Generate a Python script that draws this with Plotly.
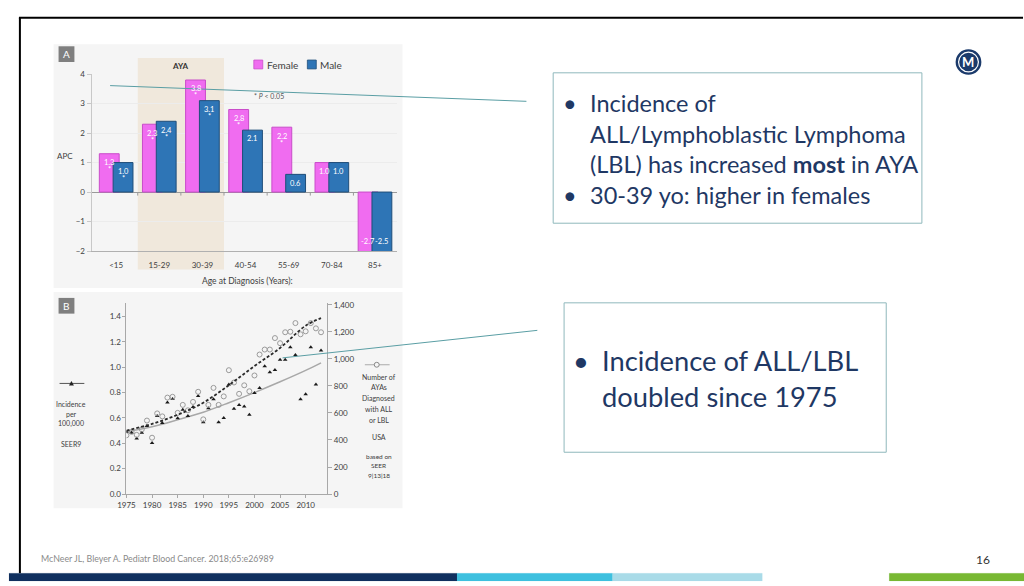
import plotly.graph_objects as go

W, H = 1024, 586

# ---------------- Panel A: annual percent change by age group ----------------
age_groups = ["<15", "15-29", "30-39", "40-54", "55-69", "70-84", "85+"]
female_apc = [1.3, 2.3, 3.8, 2.8, 2.2, 1.0, -2.7]
male_apc = [1.0, 2.4, 3.1, 2.1, 0.6, 1.0, -2.5]
female_sig = [True, True, True, True, True, False, False]
male_sig = [True, True, True, False, False, False, False]
apc_ticks = [-2, -1, 0, 1, 2, 3, 4]

# ---------------- Panel B: incidence and case counts over time ----------------
years = [1975, 1976, 1977, 1978, 1979, 1980, 1981, 1982, 1983, 1984,
         1985, 1986, 1987, 1988, 1989, 1990, 1991, 1992, 1993, 1994,
         1995, 1996, 1997, 1998, 1999, 2000, 2001, 2002, 2003, 2004,
         2005, 2006, 2007, 2008, 2009, 2010, 2011, 2012, 2013]
incidence = [0.49, 0.483, 0.437, 0.483, 0.537, 0.403, 0.615, 0.561, 0.721, 0.749,
             0.597, 0.664, 0.615, 0.687, 0.773, 0.566, 0.677, 0.747, 0.566, 0.599,
             0.863, 0.672, 0.703, 0.69, 0.625, 0.796, 0.837, 1.008, 0.961, 0.979,
             1.06, 1.06, 1.158, 1.096, 0.747, 0.786, 1.158, 0.863, 1.132]
aya_count = [435, 460, 438, 479, 544, 417, 597, 575, 714, 720,
             601, 660, 620, 682, 757, 553, 660, 786, 660, 723,
             917, 826, 742, 805, 761, 878, 1033, 1070, 1070, 1155,
             1117, 1198, 1202, 1266, 1183, 1205, 1266, 1227, 1198]
trend_years = [1975, 1980, 1985, 1990, 1995, 2000, 2005, 2010, 2013]
incidence_trend = [0.49, 0.53, 0.585, 0.645, 0.72, 0.80, 0.885, 0.975, 1.035]
count_trend = [470, 519, 587, 676, 806, 948, 1082, 1247, 1303]
year_ticks = [1975, 1980, 1985, 1990, 1995, 2000, 2005, 2010]
inc_ticks = [0.0, 0.2, 0.4, 0.6, 0.8, 1.0, 1.2, 1.4]
count_ticks = [0, 200, 400, 600, 800, 1000, 1200, 1400]

PINK = "#f06cf0"
PINK_EDGE = "#c94cc9"
BLUE = "#2e75b6"
BLUE_EDGE = "#1f4e79"
NAVY = "#1f3864"
TEAL = "#5a9ea4"
BOX_EDGE = "#8fb8bc"
AX_TXT = "#404040"
FONT = "Lato"


def fx(x):
    return x / W


def fy(y):
    return 1 - y / H


fig = go.Figure()

# bars: female drawn first, male overlaps it on the right
fig.add_trace(go.Bar(x=age_groups, y=female_apc, width=0.46, offset=-0.39,
                     marker=dict(color=PINK, line=dict(color=PINK_EDGE, width=1)),
                     xaxis="x", yaxis="y", showlegend=False, name="Female"))
fig.add_trace(go.Bar(x=age_groups, y=male_apc, width=0.46, offset=-0.07,
                     marker=dict(color=BLUE, line=dict(color=BLUE_EDGE, width=1)),
                     xaxis="x", yaxis="y", showlegend=False, name="Male"))

# panel B: counts (right axis) as open circles, incidence (left axis) as dark markers
fig.add_trace(go.Scatter(x=years, y=aya_count, mode="markers",
                         marker=dict(symbol="circle-open", size=5, color="#9a9a9a",
                                     line=dict(width=1)),
                         xaxis="x2", yaxis="y3", showlegend=False))
fig.add_trace(go.Scatter(x=trend_years, y=count_trend, mode="lines",
                         line=dict(color="#2b2b2b", width=1.8, dash="3px,2px", shape="spline"),
                         xaxis="x2", yaxis="y3", showlegend=False))
fig.add_trace(go.Scatter(x=trend_years, y=incidence_trend, mode="lines",
                         line=dict(color="#a8a8a8", width=1.5, shape="spline"),
                         xaxis="x2", yaxis="y2", showlegend=False))
fig.add_trace(go.Scatter(x=years, y=incidence, mode="markers",
                         marker=dict(symbol="triangle-up", size=4, color="#1a1a1a"),
                         xaxis="x2", yaxis="y2", showlegend=False))

shapes = []
# panel backgrounds
shapes.append(dict(type="rect", xref="paper", yref="paper", x0=fx(45), x1=fx(397),
                   y0=fy(288), y1=fy(40), fillcolor="#f5f5f5", line_width=0, layer="below"))
shapes.append(dict(type="rect", xref="paper", yref="paper", x0=fx(45), x1=fx(397),
                   y0=fy(512), y1=fy(292), fillcolor="#f5f5f5", line_width=0, layer="below"))
# AYA band behind the 15-29 and 30-39 groups
shapes.append(dict(type="rect", xref="x", yref="paper", x0=0.5, x1=2.5,
                   y0=fy(269), y1=fy(54), fillcolor="#f0e8dc", line_width=0, layer="below"))
# small tick marks on the zero line between age groups
for b in range(len(age_groups) - 1):
    shapes.append(dict(type="line", xref="x", yref="y", x0=b + 0.5, x1=b + 0.5,
                       y0=0, y1=-0.12, line=dict(color="#9a9a9a", width=1)))
# panel letters
for letter_y in (42, 298):
    shapes.append(dict(type="rect", xref="paper", yref="paper", x0=fx(50), x1=fx(66),
                       y0=fy(letter_y + 16), y1=fy(letter_y), fillcolor="#7f7f7f", line_width=0))
# legend swatches for panel A
shapes.append(dict(type="rect", xref="paper", yref="paper", x0=fx(247), x1=fx(256),
                   y0=fy(65), y1=fy(56), fillcolor=PINK, line=dict(color=PINK_EDGE, width=0.8)))
shapes.append(dict(type="rect", xref="paper", yref="paper", x0=fx(301), x1=fx(310),
                   y0=fy(65), y1=fy(56), fillcolor=BLUE, line=dict(color=BLUE_EDGE, width=0.8)))
# panel B legend glyphs: line with a filled triangle, line with an open circle
shapes.append(dict(type="line", xref="paper", yref="paper", x0=fx(51), x1=fx(76),
                   y0=fy(385), y1=fy(385), line=dict(color="#555555", width=1)))
tri = [(60.5, 387), (65.5, 387), (63, 382.5)]
shapes.append(dict(type="path", xref="paper", yref="paper",
                   path="M " + " L ".join(f"{fx(px):.5f},{fy(py):.5f}" for px, py in tri) + " Z",
                   fillcolor="#222222", line_width=0))
shapes.append(dict(type="line", xref="paper", yref="paper", x0=fx(359), x1=fx(384),
                   y0=fy(366), y1=fy(366), line=dict(color="#aaaaaa", width=1)))
shapes.append(dict(type="circle", xref="paper", yref="paper", x0=fx(368.5), x1=fx(373.5),
                   y0=fy(368.5), y1=fy(363.5), fillcolor="#f5f5f5",
                   line=dict(color="#888888", width=1)))
# connector lines to the callout boxes
shapes.append(dict(type="line", xref="paper", yref="paper", x0=fx(102), x1=fx(522),
                   y0=fy(82), y1=fy(98), line=dict(color=TEAL, width=1)))
shapes.append(dict(type="line", xref="paper", yref="paper", x0=fx(276), x1=fx(533),
                   y0=fy(359), y1=fy(331), line=dict(color=TEAL, width=1)))
# callout boxes
shapes.append(dict(type="rect", xref="paper", yref="paper", x0=fx(549), x1=fx(921),
                   y0=fy(222), y1=fy(69), fillcolor="white", line=dict(color=BOX_EDGE, width=1)))
shapes.append(dict(type="rect", xref="paper", yref="paper", x0=fx(560), x1=fx(885),
                   y0=fy(455), y1=fy(303), fillcolor="white", line=dict(color=BOX_EDGE, width=1)))
# slide frame
shapes.append(dict(type="line", xref="paper", yref="paper", x0=fx(10), x1=fx(1023),
                   y0=fy(13), y1=fy(13), line=dict(color="black", width=2)))
shapes.append(dict(type="line", xref="paper", yref="paper", x0=fx(11), x1=fx(11),
                   y0=fy(578), y1=fy(13), line=dict(color="black", width=2)))
# footer colour band
for x0, x1, col in [(0, 452, "#10305f"), (452, 609, "#3ec0df"),
                    (609, 760, "#a9dbe8"), (888, 1024, "#78b833")]:
    shapes.append(dict(type="rect", xref="paper", yref="paper", x0=fx(x0), x1=fx(x1),
                       y0=0, y1=fy(578), fillcolor=col, line=dict(color=col, width=0.1)))
# logo
shapes.append(dict(type="circle", xref="paper", yref="paper", x0=fx(955), x1=fx(981),
                   y0=fy(71), y1=fy(45), fillcolor="#1b3a6b", line_width=0))
shapes.append(dict(type="circle", xref="paper", yref="paper", x0=fx(958), x1=fx(978),
                   y0=fy(68), y1=fy(48), fillcolor="rgba(0,0,0,0)",
                   line=dict(color="white", width=1.2)))

ann = []


def text(x, y, s, size, color=AX_TXT, anchor="center"):
    ann.append(dict(x=fx(x), y=fy(y), xref="paper", yref="paper", text=s, showarrow=False,
                    xanchor=anchor, yanchor="middle",
                    font=dict(size=size, color=color, family=FONT)))


def label_y(v):
    if v < 0:
        return max(v, -2) + 0.33
    return v - 0.3 if v > 0.8 else v / 2


# value labels inside the bars, with an asterisk under significant changes
for offs, vals, sigs in [(-0.16, female_apc, female_sig), (0.16, male_apc, male_sig)]:
    for i, (v, sig) in enumerate(zip(vals, sigs)):
        yl = label_y(v)
        ann.append(dict(x=i + offs, y=yl, xref="x", yref="y", text=f"{v:.1f}",
                        showarrow=False, font=dict(size=7.5, color="white", family=FONT)))
        if sig:
            ann.append(dict(x=i + offs, y=yl - 0.24, xref="x", yref="y", text="*",
                            showarrow=False, font=dict(size=7.5, color="white", family=FONT)))

text(58, 50, "A", 10, color="white")
text(58, 306, "B", 10, color="white")
text(173, 62, "<b>AYA</b>", 8, color="#333333")
text(258, 61, "Female", 10, anchor="left")
text(312, 61, "Male", 10, anchor="left")
text(262, 93, "* <i>P</i> &lt; 0.05", 7, color="#555555")
text(56, 154, "APC", 8)
text(241, 281, "Age at Diagnosis (Years):", 8.5)

# panel B side legends
text(63, 406, "Incidence", 7)
text(63, 416, "per", 7)
text(63, 426, "100,000", 7)
text(63, 447, "SEER9", 7)
for yy, s in [(378, "Number of"), (389, "AYAs"), (400, "Diagnosed"), (411, "with ALL"),
              (422, "or LBL"), (440, "USA"), (459, "based on"), (469, "SEER"), (479, "9|13|18")]:
    text(373, yy, s, 7 if yy < 450 else 6.5)

# callout text
BOX_A = 23.5
text(566, 100, "•", BOX_A, color=NAVY)
text(584, 100, "Incidence of", BOX_A, color=NAVY, anchor="left")
text(584, 131, "ALL/Lymphoblastic Lymphoma", BOX_A, color=NAVY, anchor="left")
text(584, 162, "(LBL) has increased <b>most</b> in AYA", BOX_A, color=NAVY, anchor="left")
text(566, 193, "•", BOX_A, color=NAVY)
text(584, 193, "30-39 yo: higher in females", BOX_A, color=NAVY, anchor="left")
BOX_B = 27.3
text(577, 362, "•", BOX_B, color=NAVY)
text(596, 362, "Incidence of ALL/LBL", BOX_B, color=NAVY, anchor="left")
text(596, 398, "doubled since 1975", BOX_B, color=NAVY, anchor="left")

# footer and logo
text(30, 563, "McNeer JL, Bleyer A. Pediatr Blood Cancer. 2018;65:e26989", 8.8,
     color="#8a8a8a", anchor="left")
text(983, 564, "16", 12, color="#333333")
text(968, 58, "<b>M</b>", 13, color="white")

axis_font = dict(size=8, color=AX_TXT, family=FONT)

fig.update_layout(
    width=W, height=H,
    margin=dict(l=0, r=0, t=0, b=0, pad=0),
    paper_bgcolor="white",
    plot_bgcolor="rgba(0,0,0,0)",
    barmode="overlay",
    shapes=shapes,
    annotations=ann,
    xaxis=dict(domain=[fx(83.3), fx(391)], range=[-0.57, 6.5], type="category",
               showgrid=False, showline=True, linecolor="#b0b0b0",
               ticks="outside", ticklen=6, tickcolor="rgba(0,0,0,0)", tickfont=axis_font),
    yaxis=dict(domain=[fy(250.3), fy(70.3)], range=[-2, 4], tickvals=apc_ticks,
               ticktext=[str(t).replace("-", "−") for t in apc_ticks],
               showgrid=True, gridcolor="#ececec", zeroline=True, zerolinecolor="#9a9a9a",
               zerolinewidth=1, showline=True, linecolor="#c8c8c8", ticks="outside",
               ticklen=4, tickcolor="#c8c8c8", tickfont=axis_font),
    xaxis2=dict(domain=[fx(118.5), fx(321)], range=[1975, 2014.2], tickvals=year_ticks,
                showgrid=False, showline=True, linecolor="#a8a8a8", ticks="outside",
                ticklen=3, tickcolor="#a8a8a8", tickfont=axis_font, anchor="y2"),
    yaxis2=dict(domain=[fy(497.5), fy(303)], range=[0, 1.508], tickvals=inc_ticks,
                tickformat=".1f", showgrid=False, zeroline=False, showline=True,
                linecolor="#a8a8a8", ticks="outside", ticklen=3, tickcolor="#a8a8a8",
                tickfont=axis_font, anchor="x2"),
    yaxis3=dict(domain=[fy(497.5), fy(303)], range=[0, 1416], tickvals=count_ticks,
                tickformat=",", overlaying="y2", side="right", anchor="x2",
                showgrid=False, zeroline=False, showline=True, linecolor="#a8a8a8",
                ticks="outside", ticklen=4, tickcolor="#a8a8a8", tickfont=axis_font),
)

fig.write_html("out.html")
